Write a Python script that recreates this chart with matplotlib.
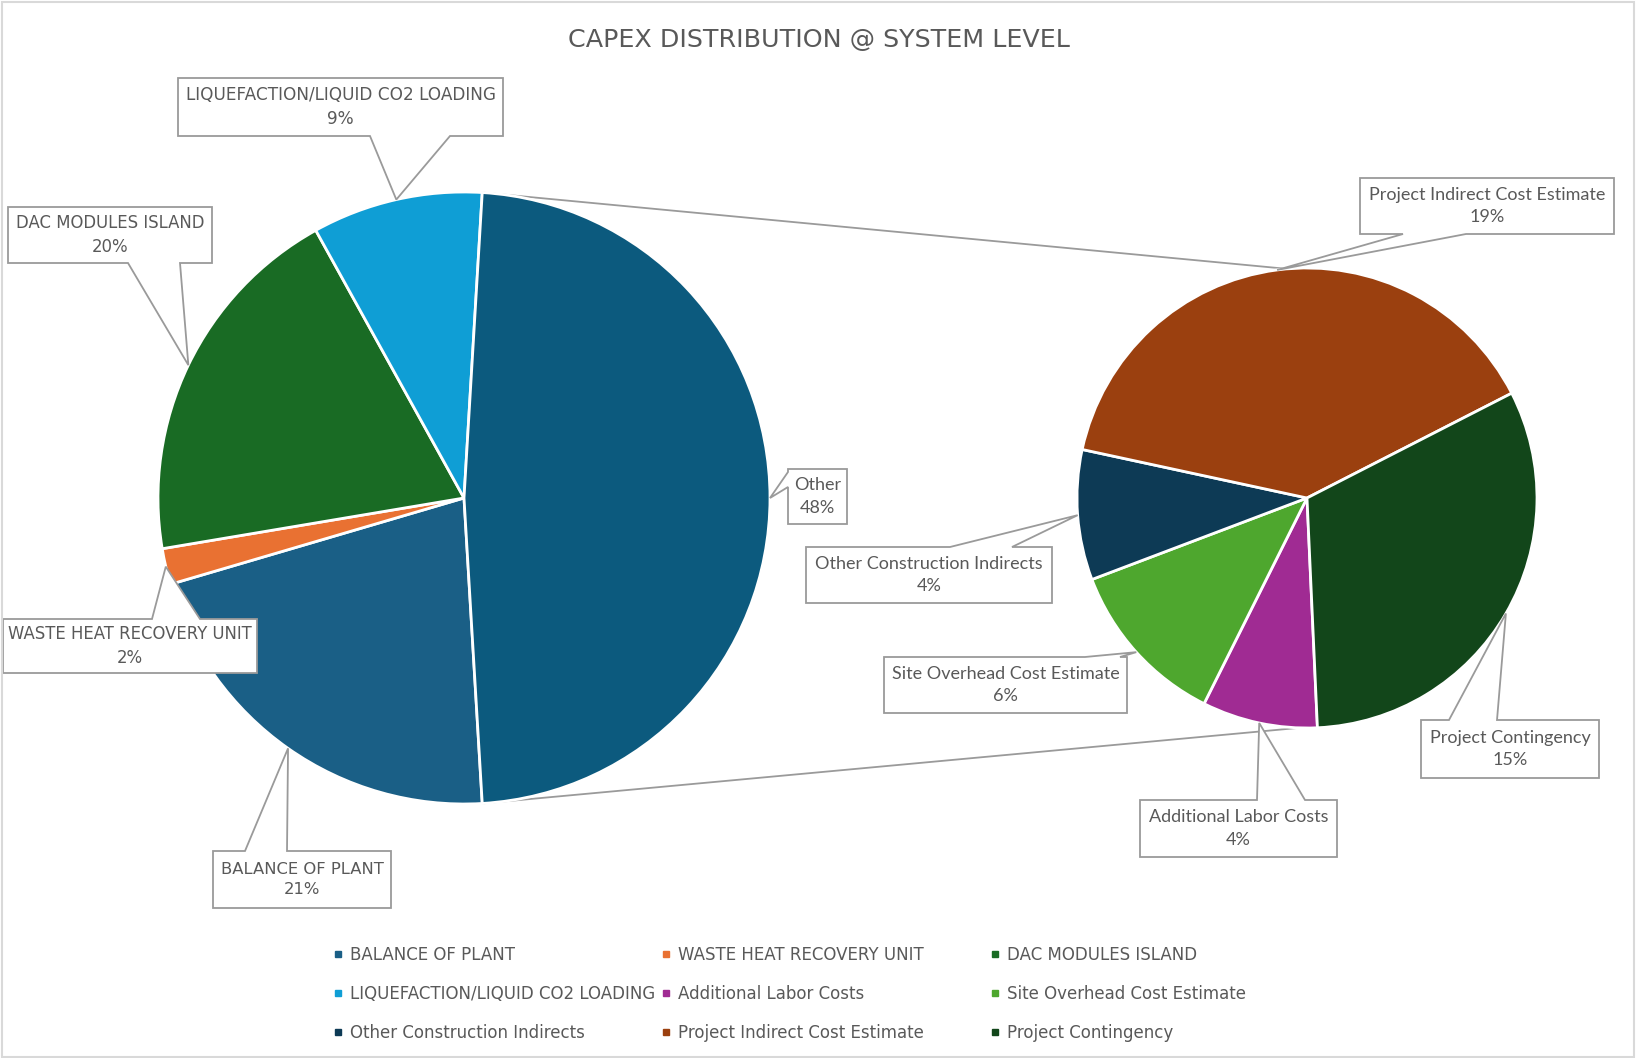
import numpy as np
import matplotlib
matplotlib.use("Agg")
import matplotlib.pyplot as plt
from matplotlib.patches import Polygon, Rectangle
from matplotlib.lines import Line2D

# data (share of total capex, %)
main_labels = ["BALANCE OF PLANT", "WASTE HEAT RECOVERY UNIT", "DAC MODULES ISLAND",
               "LIQUEFACTION/LIQUID CO2 LOADING"]
main_values = [21.4, 1.9, 19.6, 9.0]
sub_labels = ["Additional Labor Costs", "Site Overhead Cost Estimate", "Other Construction Indirects",
              "Project Indirect Cost Estimate", "Project Contingency"]
sub_values = [3.9, 5.7, 4.4, 18.8, 15.3]
other_label = "Other"

main_colors = ["#1A5F86", "#E97132", "#196B24", "#0F9ED5"]
other_color = "#0C5A7E"
sub_colors = ["#A02B93", "#4EA72E", "#0D3A55", "#9B400F", "#12461A"]

W, H = 1636, 1058
GRAY = "#595959"
NARROW = ["Liberation Sans Narrow", "DejaVu Sans"]
LATO = ["Lato", "DejaVu Sans"]

fig = plt.figure(figsize=(W / 100, H / 100), dpi=100)
ax = fig.add_axes([0, 0, 1, 1])
ax.set_aspect("equal")

total = sum(main_values) + sum(sub_values)
other_val = sum(sub_values)

# main pie
c1, r1 = (464, H - 498), 306
vals1 = main_values + [other_val]
w1, _ = ax.pie(vals1, colors=main_colors + [other_color], center=c1, radius=r1,
               counterclock=False, startangle=-other_val / total * 180,
               wedgeprops=dict(edgecolor="white", linewidth=2), frame=True)

# secondary pie
c2, r2 = (1307, H - 498), 230
w2, _ = ax.pie(sub_values, colors=sub_colors, center=c2, radius=r2,
               counterclock=False, startangle=272.6,
               wedgeprops=dict(edgecolor="white", linewidth=2), frame=True)
ax.set_xlim(0, W)
ax.set_ylim(0, H)
ax.axis("off")

# connector lines from the "Other" slice to the secondary pie
ow = w1[-1]
for ang1, ang2 in [(ow.theta2, 95), (ow.theta1, 268)]:
    p1 = (c1[0] + r1 * np.cos(np.radians(ang1)), c1[1] + r1 * np.sin(np.radians(ang1)))
    p2 = (c2[0] + r2 * np.cos(np.radians(ang2)), c2[1] + r2 * np.sin(np.radians(ang2)))
    ax.plot([p1[0], p2[0]], [p1[1], p2[1]], color="#9A9A9A", lw=1.3, zorder=0.5)


def callout(wedge, center, radius, text, box, side, base, font, size, lsp):
    mid = np.radians((wedge.theta1 + wedge.theta2) / 2)
    tx = center[0] + radius * np.cos(mid)
    ty = H - (center[1] + radius * np.sin(mid))
    x0, y0, x1, y1 = box
    a, b = base
    pts = [(x0, y0)]
    if side == "top":
        pts += [(a, y0), (tx, ty), (b, y0)]
    pts += [(x1, y0)]
    if side == "right":
        pts += [(x1, a), (tx, ty), (x1, b)]
    pts += [(x1, y1)]
    if side == "bottom":
        pts += [(b, y1), (tx, ty), (a, y1)]
    pts += [(x0, y1)]
    if side == "left":
        pts += [(x0, b), (tx, ty), (x0, a)]
    poly = Polygon([(x, H - y) for x, y in pts], closed=True, facecolor="white",
                   edgecolor="#9A9A9A", lw=1.3, zorder=3)
    ax.add_patch(poly)
    ax.text((x0 + x1) / 2, H - (y0 + y1) / 2, text, ha="center", va="center",
            fontsize=size, color=GRAY, family=font, linespacing=lsp, zorder=4)


main_boxes = [((213, 851, 391, 908), "top", (245, 287)),
              ((3, 619, 257, 673), "top", (152, 200)),
              ((8, 207, 212, 263), "bottom", (128, 180)),
              ((178, 78, 503, 136), "bottom", (370, 450)),
              ((788, 469, 847, 524), "left", (472, 487))]
main_sizes = [11.8, 11.9, 11.9, 12.2, 13]
for wdg, lab, val, (box, side, base), sz in zip(w1, main_labels + [other_label], vals1,
                                               main_boxes, main_sizes):
    if lab == other_label:
        fnt, lsp = LATO, 1.5
    else:
        fnt, lsp = NARROW, 1.45
    callout(wdg, c1, r1, f"{lab}\n{round(val / total * 100)}%", box, side, base, fnt, sz, lsp)

sub_boxes = [((1140, 800, 1337, 857), "top", (1257, 1305)),
             ((884, 657, 1127, 713), "top", (1085, 1120)),
             ((806, 547, 1052, 603), "top", (950, 1012)),
             ((1360, 178, 1614, 234), "bottom", (1403, 1466)),
             ((1421, 720, 1599, 778), "top", (1449, 1497))]
for wdg, lab, val, (box, side, base) in zip(w2, sub_labels, sub_values, sub_boxes):
    callout(wdg, c2, r2, f"{lab}\n{round(val / total * 100)}%", box, side, base, LATO, 13, 1.5)

# title
fig.text(819 / W, 1 - 40 / H, "CAPEX DISTRIBUTION @ SYSTEM LEVEL", ha="center", va="center",
         fontsize=18.3, color=GRAY, family=NARROW)

# legend, row-major order in three columns
leg_labels = main_labels + sub_labels
leg_colors = main_colors + sub_colors
col_x = [334, 662, 991]
for col in range(3):
    idx = [col, col + 3, col + 6]
    handles = [Line2D([], [], marker="s", ms=5, ls="none", color=leg_colors[i]) for i in idx]
    leg = fig.legend(handles, [leg_labels[i] for i in idx], loc="upper left",
                     bbox_to_anchor=(col_x[col] / W, 1 - 946 / H), frameon=False,
                     handlelength=0.5, handletextpad=0.45, borderpad=0, borderaxespad=0,
                     labelspacing=1.25, prop=dict(family=NARROW, size=12))
    for t in leg.get_texts():
        t.set_color(GRAY)

# chart border
fig.patches.append(Rectangle((0.001, 0.001), 0.998, 0.997, transform=fig.transFigure,
                             fill=False, edgecolor="#D9D9D9", lw=1.5))

fig.savefig("out.png", dpi=100)
